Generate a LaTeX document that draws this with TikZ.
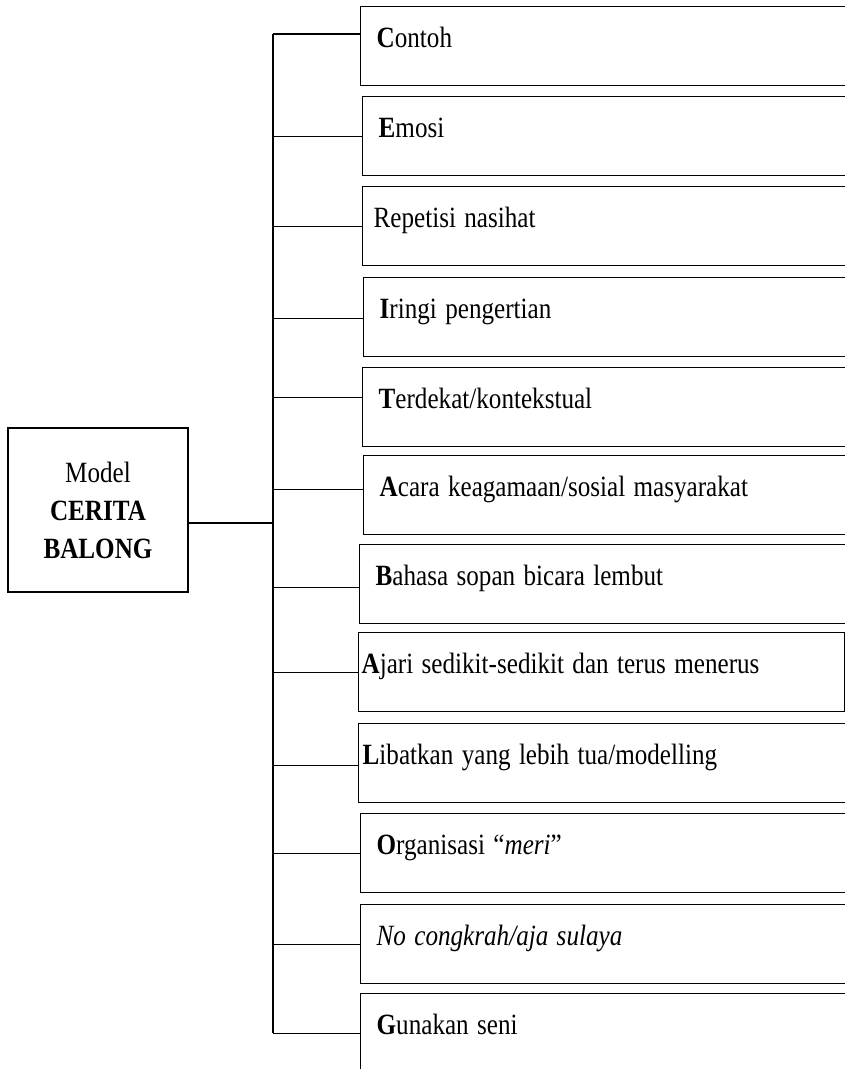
\documentclass[tikz,border=0pt]{standalone}
\usepackage{fontspec}
\setmainfont{Liberation Serif}
\usetikzlibrary{calc}
\newcommand{\tallt}[1]{\scalebox{1}[1.17]{#1}}

\begin{document}
\begin{tikzpicture}[x=0.02cm, y=-0.02cm,
  every node/.style={font=\fontsize{14.3}{21.6}\selectfont},
  itembox/.style={draw, line width=0.8pt, anchor=north west, align=left, inner ysep=0pt,
    inner xsep=0.32cm, text width=9.4cm, text height=0.82cm, text depth=0.76cm},
  conn/.style={line width=0.7pt}]
\clip (0,0) rectangle (845,1069);

\node[draw, line width=0.8pt, minimum width=3.6cm, minimum height=3.28cm, align=center] (model) at (98,510)
  {\tallt{Model}\\\tallt{\textbf{CERITA}}\\\tallt{\textbf{BALONG}}};

\node[itembox] (b1) at (360,6) {\tallt{\textbf{C}ontoh}};
\node[itembox] (b2) at (362,96) {\tallt{\textbf{E}mosi}};
\node[itembox, inner xsep=0.22cm] (b3) at (362,186) {\tallt{Repetisi nasihat}};
\node[itembox] (b4) at (363,277) {\tallt{\textbf{I}ringi pengertian}};
\node[itembox] (b5) at (362,367) {\tallt{\textbf{T}erdekat/kontekstual}};
\node[itembox] (b6) at (363,455) {\tallt{\textbf{A}cara keagamaan/sosial masyarakat}};
\node[itembox] (b7) at (359,544) {\tallt{\textbf{B}ahasa sopan bicara lembut}};
\node[itembox, inner xsep=0.06cm, text width=9.6cm] (b8) at (358,632) {\tallt{\textbf{A}jari sedikit-sedikit dan terus menerus}};
\node[itembox, inner xsep=0.08cm, text width=9.6cm] (b9) at (358,723) {\tallt{\textbf{L}ibatkan yang lebih tua/modelling}};
\node[itembox] (b10) at (360,813) {\tallt{\textbf{O}rganisasi “\textit{meri}”}};
\node[itembox] (b11) at (360,904) {\tallt{\textit{No congkrah/aja sulaya}}};
\node[itembox] (b12) at (360,993) {\tallt{\textbf{G}unakan seni}};

% tree lines
\coordinate (trunktop) at (273,34);
\draw[conn] (trunktop) -- (b12.west -| trunktop);
\draw[conn] (trunktop) -- (trunktop -| b1.west);
\foreach \i/\dy in {2/0cm, 3/0cm, 4/-0.03cm, 5/0.19cm, 6/0.12cm, 7/-0.06cm, 8/0cm, 9/-0.05cm, 10/0cm, 11/0cm, 12/0cm}
  \draw[conn] ([yshift=\dy]b\i.west -| trunktop) -- ([yshift=\dy]b\i.west);
\draw[conn] ([yshift=-0.26cm]model.east) -- ([yshift=-0.26cm]model.east -| trunktop);
\end{tikzpicture}
\end{document}
